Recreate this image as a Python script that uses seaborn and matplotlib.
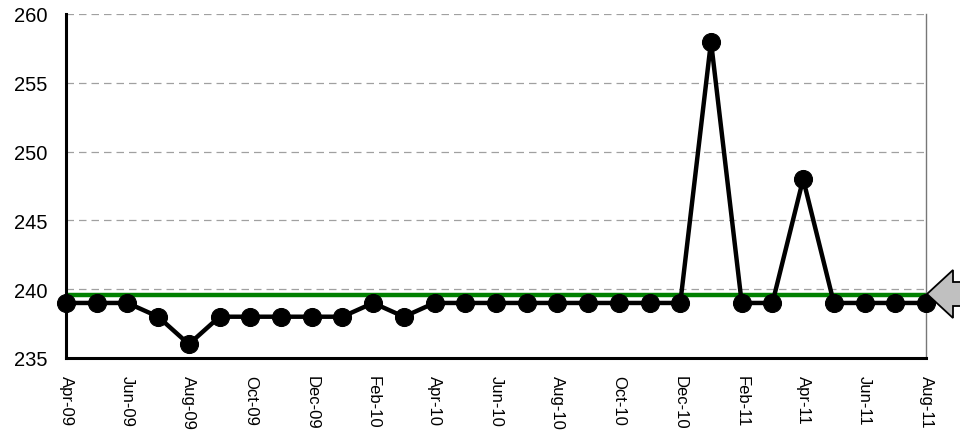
import matplotlib
matplotlib.use("Agg")
import matplotlib.pyplot as plt
import matplotlib.patches as mpatches
import seaborn as sns
import pandas as pd

months = ["Apr-09", "May-09", "Jun-09", "Jul-09", "Aug-09", "Sep-09", "Oct-09", "Nov-09",
          "Dec-09", "Jan-10", "Feb-10", "Mar-10", "Apr-10", "May-10", "Jun-10", "Jul-10",
          "Aug-10", "Sep-10", "Oct-10", "Nov-10", "Dec-10", "Jan-11", "Feb-11", "Mar-11",
          "Apr-11", "May-11", "Jun-11", "Jul-11", "Aug-11"]
values = [239, 239, 239, 238, 236, 238, 238, 238, 238, 238, 239, 238, 239, 239, 239, 239,
          239, 239, 239, 239, 239, 258, 239, 239, 248, 239, 239, 239, 239]
target = 239.6
y_ticks = [235, 240, 245, 250, 255, 260]

df = pd.DataFrame({"pos": range(len(months)), "month": months, "value": values})

sns.set_style("white")
plt.rcParams["font.family"] = ["Liberation Sans", "DejaVu Sans"]
plt.rcParams["text.color"] = "black"
plt.rcParams["xtick.color"] = "black"
plt.rcParams["ytick.color"] = "black"

fig = plt.figure(figsize=(9.6, 4.31), dpi=100)
ax = fig.add_axes([66 / 960, 1 - 359 / 431, (926 - 66) / 960, (359 - 15) / 431])

for y in y_ticks[1:]:
    ax.axhline(y, color="#a0a0a0", lw=0.9, ls=(0, (6, 4)), zorder=1)

ax.axhline(target, color="#008000", lw=3.2, zorder=2)

sns.lineplot(data=df, x="pos", y="value", ax=ax, color="black", lw=3.2,
             marker="o", markersize=13, markeredgecolor="black", zorder=3,
             clip_on=False)

ax.set_xlim(0, len(months) - 1)
ax.set_ylim(235, 260)
ax.set_yticks(y_ticks)
ax.set_yticklabels([str(v) for v in y_ticks], fontsize=14.5, color="black")
ax.tick_params(axis="y", length=0, pad=13.5)

ax.set_xticks(range(0, len(months), 2))
ax.set_xticklabels(months[::2], rotation=270, fontsize=12, va="top", ha="center",
                   color="black")
ax.set_xticks(range(len(months)), minor=True)
ax.tick_params(axis="x", which="both", direction="inout", length=14, width=2,
               color="black", pad=5)
ax.set_xlabel("")
ax.set_ylabel("")

for side in ("left", "bottom"):
    ax.spines[side].set_color("black")
    ax.spines[side].set_linewidth(2.2)
ax.spines["top"].set_visible(False)
ax.spines["right"].set_color("#777777")
ax.spines["right"].set_linewidth(1)

# Pointer on the right marking the target level
arrow_px = [(927, 295), (953, 271), (953, 283), (962, 283), (962, 307), (953, 307), (953, 319)]
arrow = mpatches.Polygon([(x, 431 - y) for x, y in arrow_px], closed=True,
                         facecolor="#c0c0c0", edgecolor="black", lw=1.3,
                         transform=None, clip_on=False)
fig.patches.append(arrow)

fig.savefig("out.png", dpi=100)
